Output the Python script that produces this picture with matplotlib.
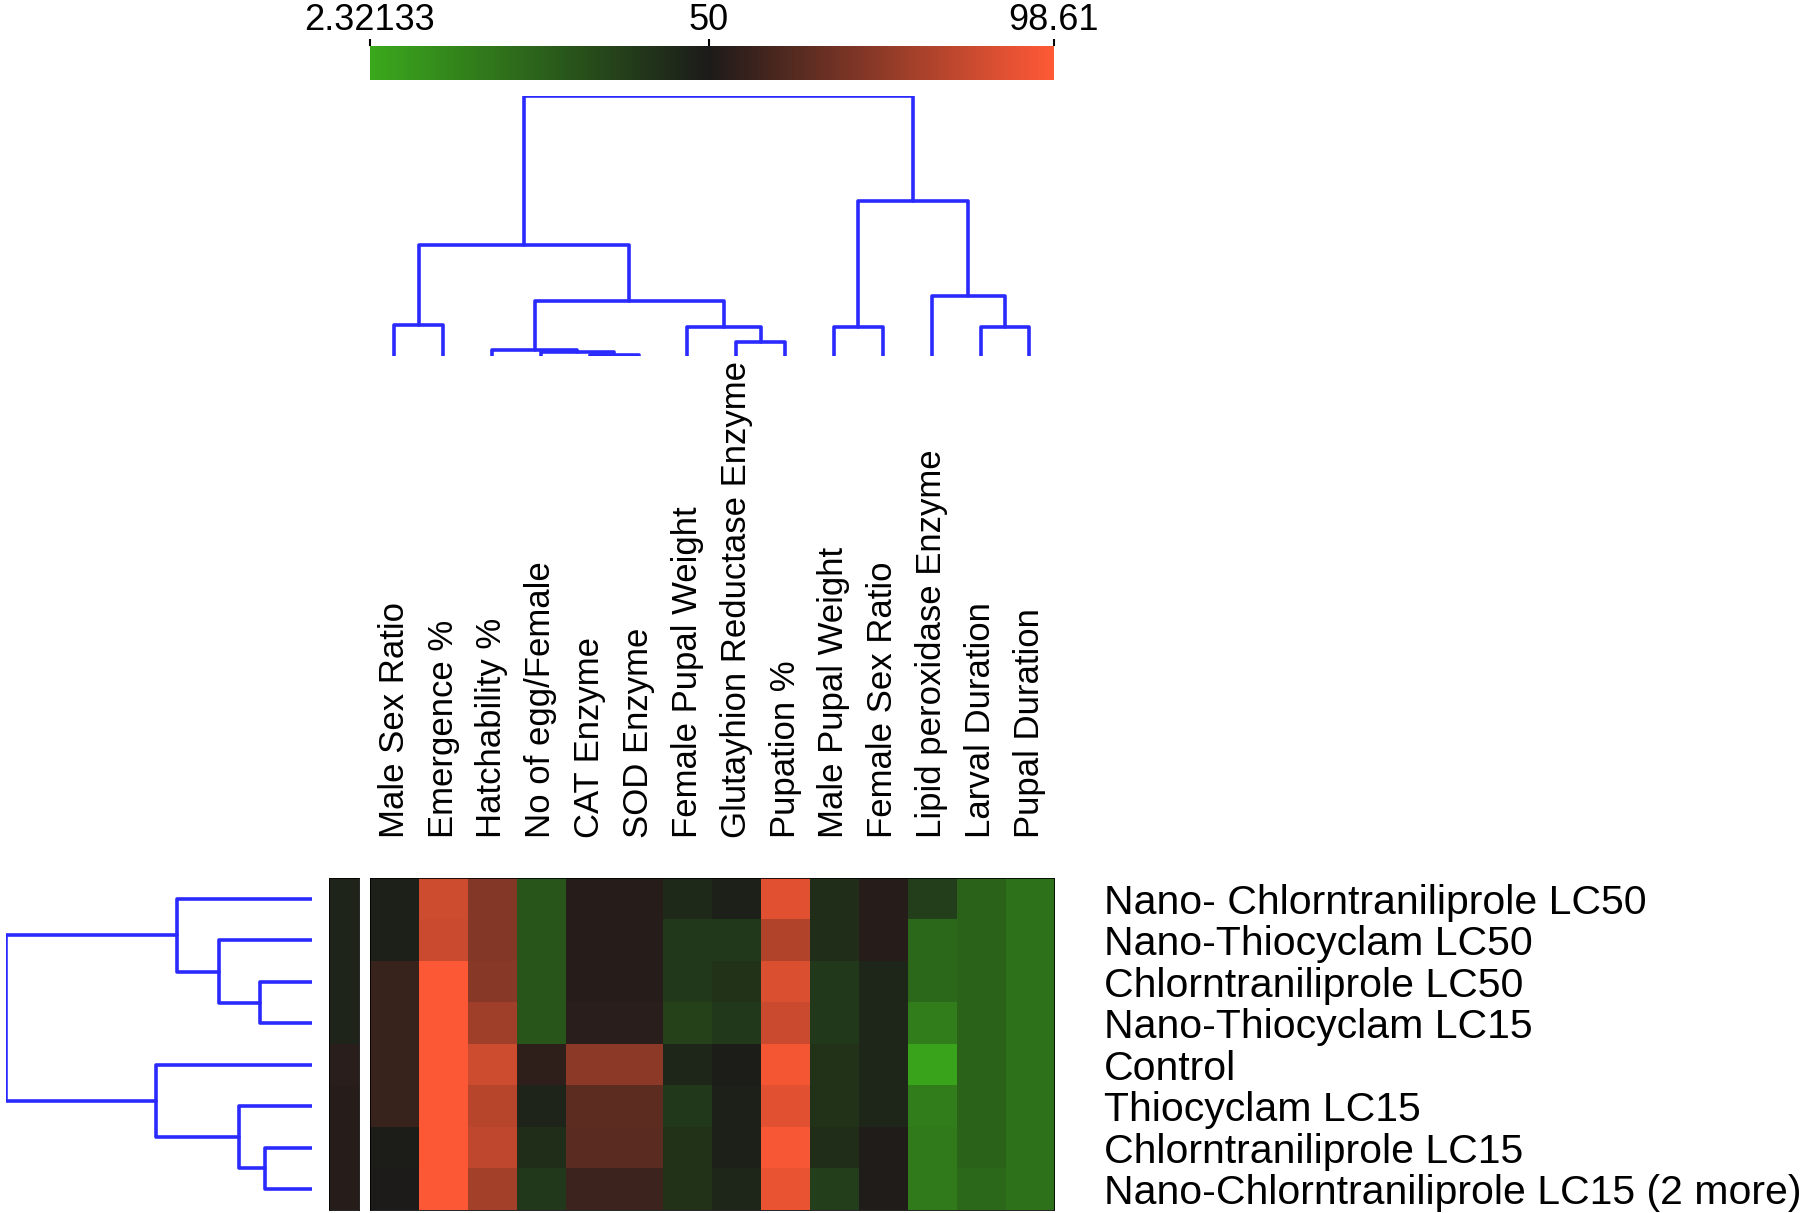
import numpy as np
import matplotlib.pyplot as plt
from matplotlib import font_manager
from matplotlib.colors import LinearSegmentedColormap, Normalize
from matplotlib.cm import ScalarMappable
from matplotlib.transforms import blended_transform_factory

plt.rcParams['font.family'] = ['Liberation Sans', 'DejaVu Sans']

# Colonnes (variables) et lignes (traitements)
columns = ["Male Sex Ratio", "Emergence %", "Hatchability %", "No of egg/Female",
           "CAT Enzyme", "SOD Enzyme", "Female Pupal Weight", "Glutayhion Reductase Enzyme",
           "Pupation %", "Male Pupal Weight", "Female Sex Ratio", "Lipid peroxidase Enzyme",
           "Larval Duration", "Pupal Duration"]
rows = ["Nano- Chlorntraniliprole LC50", "Nano-Thiocyclam LC50", "Chlorntraniliprole LC50",
        "Nano-Thiocyclam LC15", "Control", "Thiocyclam LC15", "Chlorntraniliprole LC15",
        "Nano-Chlorntraniliprole LC15 (2 more)"]

nano_chlor_lc50 = [48, 88, 72, 30, 52, 52, 45, 48, 92, 44, 52, 38, 26, 21]
nano_thio_lc50 = [48, 87, 72, 30, 52, 52, 40, 40, 82, 44, 52, 24, 26, 21]
chlor_lc50 = [56, 98, 73, 30, 52, 52, 40, 42, 91, 40, 46, 24, 26, 21]
nano_thio_lc15 = [56, 98, 78, 30, 53, 53, 37, 40, 87, 40, 46, 17, 26, 21]
control = [56, 98, 88, 54, 74, 74, 46, 49, 96, 42, 46, 4, 26, 21]
thio_lc15 = [56, 98, 83, 47, 64, 64, 40, 48, 92, 42, 46, 17, 26, 21]
chlor_lc15 = [49, 98, 85, 44, 63, 63, 42, 48, 97, 44, 51, 18, 26, 21]
nano_chlor_lc15 = [50, 98, 79, 40, 57, 57, 42, 46, 94, 38, 51, 18, 24, 21]
values = np.array([nano_chlor_lc50, nano_thio_lc50, chlor_lc50, nano_thio_lc15,
                   control, thio_lc15, chlor_lc15, nano_chlor_lc15])

# Colonne de groupe à gauche
group_values = [47, 47, 47, 47, 53, 52, 52, 52]

vmin, vmid, vmax = 2.32133, 50, 98.61

# Liaisons des dendrogrammes : (gauche, droite, hauteur), style scipy
col_links = [(4, 5, 0.004), (3, 14, 0.016), (2, 15, 0.022), (7, 8, 0.053),
             (6, 17, 0.111), (16, 18, 0.212), (0, 1, 0.119), (20, 19, 0.429),
             (9, 10, 0.111), (12, 13, 0.111), (11, 23, 0.230), (22, 24, 0.597),
             (21, 25, 1.0)]
row_links = [(2, 3, 0.172), (1, 8, 0.303), (0, 9, 0.442), (6, 7, 0.154),
             (5, 11, 0.240), (4, 12, 0.509), (10, 13, 1.0)]

line_color = '#2a2aff'


def draw_dendrogram(ax, n, links, vertical=True):
    pos = {i: i + 0.5 for i in range(n)}
    hgt = {i: 0.0 for i in range(n)}
    for k, (a, b, h) in enumerate(links):
        node = n + k
        pos[node] = (pos[a] + pos[b]) / 2
        hgt[node] = h
        xs = [pos[a], pos[a], pos[b], pos[b]]
        ys = [hgt[a], h, h, hgt[b]]
        if vertical:
            ax.plot(xs, ys, color=line_color, lw=2.6, solid_joinstyle='round',
                    solid_capstyle='round')
        else:
            ax.plot(ys, xs, color=line_color, lw=2.6, solid_joinstyle='round',
                    solid_capstyle='round')
    ax.axis('off')


cmap = LinearSegmentedColormap.from_list(
    'gbr', [(0.0, (0.23, 0.66, 0.11)),
            ((vmid - vmin) / (vmax - vmin), (0.11, 0.105, 0.10)),
            (1.0, (1.0, 0.35, 0.21))])
norm = Normalize(vmin=vmin, vmax=vmax)

fig = plt.figure(figsize=(18, 12.13), dpi=100)

hm_left, hm_width = 0.2054, 0.3801
hm_bottom, hm_top = 0.0025, 0.276

# Carte de chaleur
ax = fig.add_axes([hm_left, hm_bottom, hm_width, hm_top - hm_bottom])
ax.imshow(values, cmap=cmap, norm=norm, aspect='auto', interpolation='nearest',
          extent=(0, len(columns), len(rows), 0))
ax.set_xlim(0, len(columns))
ax.set_ylim(len(rows), 0)
ax.set_xticks([])
ax.yaxis.tick_right()
ax.set_yticks(np.arange(len(rows)) + 0.5)
ax.set_yticklabels(rows, fontsize=29.5)
ax.tick_params(axis='y', length=0, pad=36)
for s in ax.spines.values():
    s.set_linewidth(0.6)

# Étiquettes des colonnes (verticales)
names = {f.name for f in font_manager.fontManager.ttflist}
if 'Liberation Sans Narrow' in names:
    col_font, col_size = ['Liberation Sans Narrow', 'Liberation Sans'], 30
else:
    col_font, col_size = ['Liberation Sans', 'DejaVu Sans'], 25
trans = blended_transform_factory(ax.transData, fig.transFigure)
for i, name in enumerate(columns):
    ax.text(i + 0.5, 0.309, name, rotation=90, ha='center', va='bottom',
            fontsize=col_size, family=col_font, transform=trans)

# Colonne de groupe
gax = fig.add_axes([0.183, hm_bottom, 0.0166, hm_top - hm_bottom])
gax.imshow(np.array(group_values).reshape(-1, 1), cmap=cmap, norm=norm,
           aspect='auto', interpolation='nearest')
gax.set_xticks([])
gax.set_yticks([])
for s in gax.spines.values():
    s.set_linewidth(0.6)

# Dendrogramme des colonnes
cdax = fig.add_axes([hm_left, 0.7067, hm_width, 0.9205 - 0.7067])
draw_dendrogram(cdax, len(columns), col_links, vertical=True)
cdax.set_xlim(0, len(columns))
cdax.set_ylim(0, 1.0)

# Dendrogramme des lignes
rdax = fig.add_axes([0.0032, hm_bottom, 0.1735 - 0.0032, hm_top - hm_bottom])
draw_dendrogram(rdax, len(rows), row_links, vertical=False)
rdax.set_xlim(1.0, 0)
rdax.set_ylim(len(rows), 0)

# Barre de couleur
cax = fig.add_axes([hm_left, 0.934, hm_width, 0.028])
cb = fig.colorbar(ScalarMappable(norm=norm, cmap=cmap), cax=cax, orientation='horizontal',
                  ticks=[vmin, vmid, vmax])
cb.outline.set_visible(False)
cax.xaxis.set_ticks_position('top')
cax.xaxis.set_label_position('top')
cb.set_ticklabels(['2.32133', '50', '98.61'])
cax.tick_params(axis='x', labelsize=26, length=5, width=1.5, pad=1)

fig.savefig('out.png', dpi=100)
